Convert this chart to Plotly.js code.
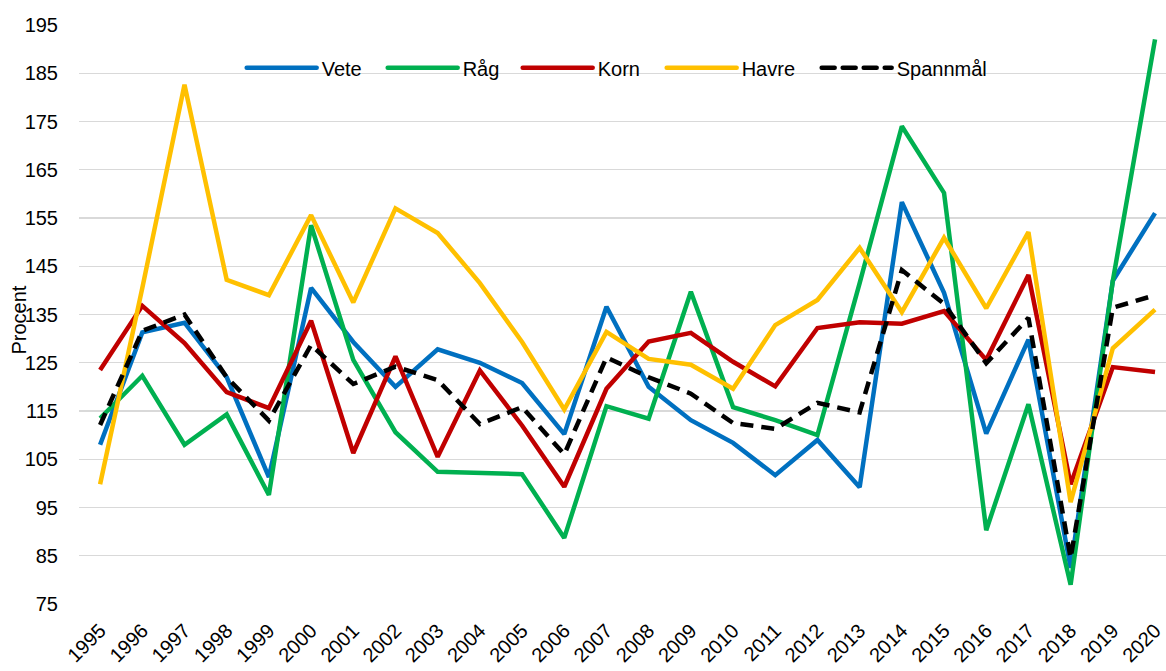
<!DOCTYPE html>
<html>
<head>
<meta charset="utf-8">
<script src="https://cdn.plot.ly/plotly-3.0.1.min.js"></script>
<style>html,body{margin:0;padding:0;background:#fff;}#chart{width:1166px;height:671px;}</style>
</head>
<body>
<div id="chart"></div>
<script>
const years = [1995,1996,1997,1998,1999,2000,2001,2002,2003,2004,2005,2006,2007,2008,2009,2010,2011,2012,2013,2014,2015,2016,2017,2018,2019,2020];
const vete = [108.0,131.3,133.3,122.0,101.3,140.5,129.3,120.0,127.8,125.0,120.8,110.2,136.6,120.0,113.1,108.4,101.7,109.0,99.2,158.3,139.5,110.3,129.8,82.5,142.0,156.0];
const rag = [113.5,122.3,108.0,114.3,97.6,153.5,125.6,110.6,102.4,102.2,101.9,88.7,116.0,113.4,139.7,115.8,113.1,110.0,141.5,174.0,160.2,90.3,116.4,79.0,142.0,192.0];
const korn = [123.5,136.8,129.1,118.9,115.6,133.7,106.3,126.3,105.5,123.4,112.0,99.3,119.6,129.4,131.2,125.2,120.1,132.2,133.4,133.1,135.7,125.6,143.2,99.8,124.1,123.1];
const havre = [99.8,140.5,182.6,142.2,139.0,155.6,137.5,157.0,151.9,141.5,129.3,115.3,131.4,125.8,124.6,119.6,132.8,138.0,148.8,135.5,150.9,136.3,152.1,96.1,128.0,136.0];
const spannmal = [112.1,131.6,135.0,122.0,113.0,128.7,120.6,124.2,121.4,112.3,115.8,106.0,126.1,122.0,118.6,112.5,111.3,116.7,114.7,144.2,137.2,124.9,134.3,84.5,136.4,139.0];
const seriesNames = ['Vete','Råg','Korn','Havre','Spannmål'];
const yTicks = [75,85,95,105,115,125,135,145,155,165,175,185,195];

const colors = ['#0070C0','#00B050','#C00000','#FFC000','#000000'];
const data = [vete, rag, korn, havre, spannmal].map((vals, i) => ({
  x: years, y: vals, name: seriesNames[i], type: 'scatter', mode: 'lines',
  line: {color: colors[i], width: 4.5, dash: i === 4 ? '13px,8px' : 'solid'}
}));

const font = {family: 'Liberation Sans, Arial, sans-serif', color: '#000'};
const layout = {
  width: 1166, height: 671,
  margin: {l: 79, r: 0, t: 25, b: 67},
  paper_bgcolor: '#fff', plot_bgcolor: '#fff',
  font: Object.assign({size: 20}, font),
  showlegend: true,
  legend: {orientation: 'h', x: 0.1515, xanchor: 'left', y: 0.926, yanchor: 'middle',
           font: Object.assign({size: 20}, font), bgcolor: 'rgba(0,0,0,0)', itemwidth: 68,
           traceorder: 'normal'},
  xaxis: {type: 'linear', range: [1994.5, 2020.26], tickmode: 'array', tickvals: years,
          ticktext: years.map(String), tickangle: -45, showgrid: false, zeroline: false,
          showline: false, ticks: '', ticklabelstandoff: 10, tickfont: Object.assign({size: 20}, font)},
  yaxis: {range: [75, 195], tickmode: 'array', tickvals: yTicks, ticktext: yTicks.map(String),
          showgrid: true, gridcolor: '#d9d9d9', gridwidth: 1.3, zeroline: false, showline: false,
          ticks: '', ticklabelstandoff: 20, tickfont: Object.assign({size: 20}, font)},
  annotations: [{text: 'Procent', xref: 'paper', yref: 'paper', x: -0.055, y: 0.49,
                 xanchor: 'center', yanchor: 'middle', textangle: -90, showarrow: false,
                 font: Object.assign({size: 20}, font)}]
};
const legendOffsets = [0, 141, 276, 420, 575];
Plotly.newPlot('chart', data, layout, {displayModeBar: false, staticPlot: true}).then(gd => {
  gd.querySelectorAll('.legend .legendlines path').forEach(p => {
    p.setAttribute('d', 'M3,0h70');
    p.style.strokeLinecap = 'round';
  });
  gd.querySelectorAll('.legend .scrollbox').forEach(s => s.removeAttribute('clip-path'));
  const items = gd.querySelectorAll('.legend .traces');
  let x0 = null;
  items.forEach((g, i) => {
    const m = /translate\(([-\d.]+)[ ,]+([-\d.]+)\)/.exec(g.getAttribute('transform') || '');
    if (!m) return;
    if (x0 === null) x0 = parseFloat(m[1]);
    g.setAttribute('transform', 'translate(' + (x0 + legendOffsets[i]) + ',' + m[2] + ')');
  });
});
</script>
</body>
</html>
